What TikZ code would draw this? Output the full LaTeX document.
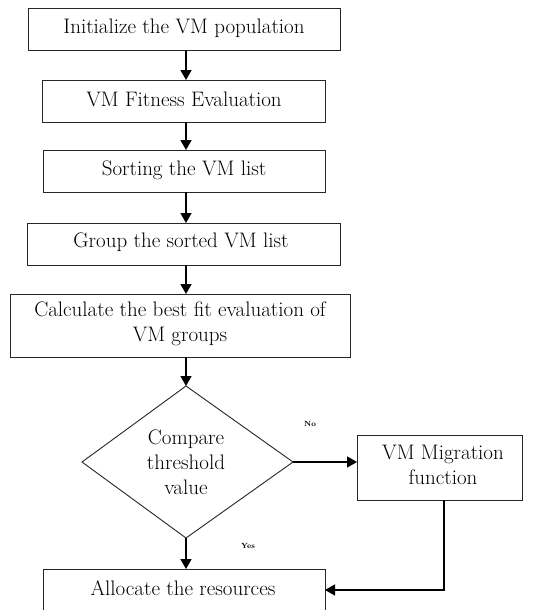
\documentclass[tikz,border=0pt]{standalone}
\usetikzlibrary{shapes.geometric,arrows.meta}
\begin{document}
\begin{tikzpicture}[x=1pt,y=-1pt,
  boxstyle/.style={draw=black!85,line width=0.9pt,fill=white},
  arr/.style={draw=black,line width=1.6pt,-{Triangle[length=10pt,width=11pt]}},
  lbl/.style={font=\fontsize{21}{25}\selectfont,align=center},
  small/.style={font=\fontsize{7.5}{8}\selectfont\bfseries}]
\useasboundingbox (0,0) rectangle (542,610);
\begin{scope}
\clip (0,0) rectangle (542,610);
% boxes
\draw[boxstyle] (28,8) rectangle (340,50);
\node[lbl] (b1) at (184,28) {Initialize the VM population};
\draw[boxstyle] (42,80) rectangle (325,122);
\node[lbl] (b2) at (184,99) {VM Fitness Evaluation};
\draw[boxstyle] (43,150) rectangle (325,192);
\node[lbl] (b3) at (184,170) {Sorting the VM list};
\draw[boxstyle] (27,223) rectangle (340,265);
\node[lbl] (b4) at (181,242) {Group the sorted VM list};
\draw[boxstyle] (10,294) rectangle (350,357);
\node[lbl] (b5) at (180,324) {Calculate the best fit evaluation of\\VM groups};
\draw[boxstyle] (82,462) -- (186,386) -- (293,462) -- (186,538) -- cycle;
\node[lbl] (d) at (186,462) {Compare\\threshold\\value};
\draw[boxstyle] (357,435) rectangle (522,500);
\node[lbl] (m) at (443,465) {VM Migration\\function};
\draw[boxstyle] (43,569) rectangle (325,640);
\node[lbl] (a) at (183,588) {Allocate the resources};
% named anchor coordinates
\coordinate (b1s) at (186,50);
\coordinate (b2n) at (186,80);
\coordinate (b2s) at (186,122);
\coordinate (b3n) at (186,150);
\coordinate (b3s) at (186,192);
\coordinate (b4n) at (186,223);
\coordinate (b4s) at (186,265);
\coordinate (b5n) at (186,294);
\coordinate (b5s) at (186,357);
\coordinate (dn) at (186,386);
\coordinate (dr) at (293,462);
\coordinate (ds) at (186,538);
\coordinate (ml) at (357,462);
\coordinate (ms) at (444,500);
\coordinate (an) at (186,569);
\coordinate (ae) at (325,590);
% connectors
\draw[arr] (b1s) -- (b2n);
\draw[arr] (b2s) -- (b3n);
\draw[arr] (b3s) -- (b4n);
\draw[arr] (b4s) -- (b5n);
\draw[arr] (b5s) -- (dn);
\draw[arr] (dr) -- (ml);
\draw[arr] (ds) -- (an);
\draw[arr] (ms) |- (ae);
% labels
\node[small] (no) at (310,424) {No};
\node[small] (yes) at (248,546) {Yes};
\end{scope}
\end{tikzpicture}
\end{document}
